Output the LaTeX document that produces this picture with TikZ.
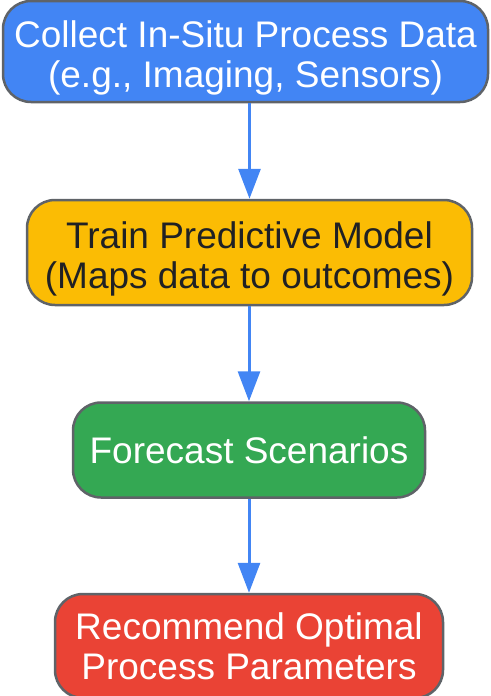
\documentclass[tikz,border=0pt]{standalone}
\usepackage{fontspec}
\setmainfont{Liberation Sans}
\usetikzlibrary{arrows.meta}

\definecolor{gblue}{HTML}{4285F4}
\definecolor{gyellow}{HTML}{FBBC04}
\definecolor{ggreen}{HTML}{34A853}
\definecolor{gred}{HTML}{EA4335}
\definecolor{gborder}{HTML}{5F6368}
\definecolor{gtext}{HTML}{202124}

% pushes a two-line label a little down
\newcommand{\lowerby}{\rule{0pt}{40pt}}

\tikzset{
    stepbox/.style={draw=gborder, line width=2.5pt, rounded corners=28pt,
        align=center, inner sep=0pt, font=\fontsize{37}{40}\selectfont},
    flow/.style={draw=gblue, line width=3pt,
        -{Triangle[width=22pt,length=30pt]}}
}

\begin{document}
\begin{tikzpicture}[x=1pt, y={(0pt,-1pt)}]
    \useasboundingbox (0,0) rectangle (490,696);

    % Boxes
    \node[stepbox, fill=gblue, text=white, minimum width=485pt, minimum height=101pt]
        (collect) at (245.5, 51.5) {\lowerby Collect In-Situ Process Data\\(e.g., Imaging, Sensors)};
    \node[stepbox, fill=gyellow, text=gtext, minimum width=445pt, minimum height=105pt]
        (train) at (249.5, 252.5) {\lowerby Train Predictive Model\\(Maps data to outcomes)};
    \node[stepbox, fill=ggreen, text=white, minimum width=352pt, minimum height=95pt]
        (forecast) at (249, 450) {Forecast Scenarios};
    \node[stepbox, fill=gred, text=white, minimum width=388pt, minimum height=104pt]
        (recommend) at (249, 646) {Recommend Optimal\\Process Parameters};

    % Arrows
    \draw[flow] (collect.south -| train.north) -- (train.north);
    \draw[flow] (train.south -| forecast.north) -- (forecast.north);
    \draw[flow] (forecast.south) -- (recommend.north);
\end{tikzpicture}
\end{document}
